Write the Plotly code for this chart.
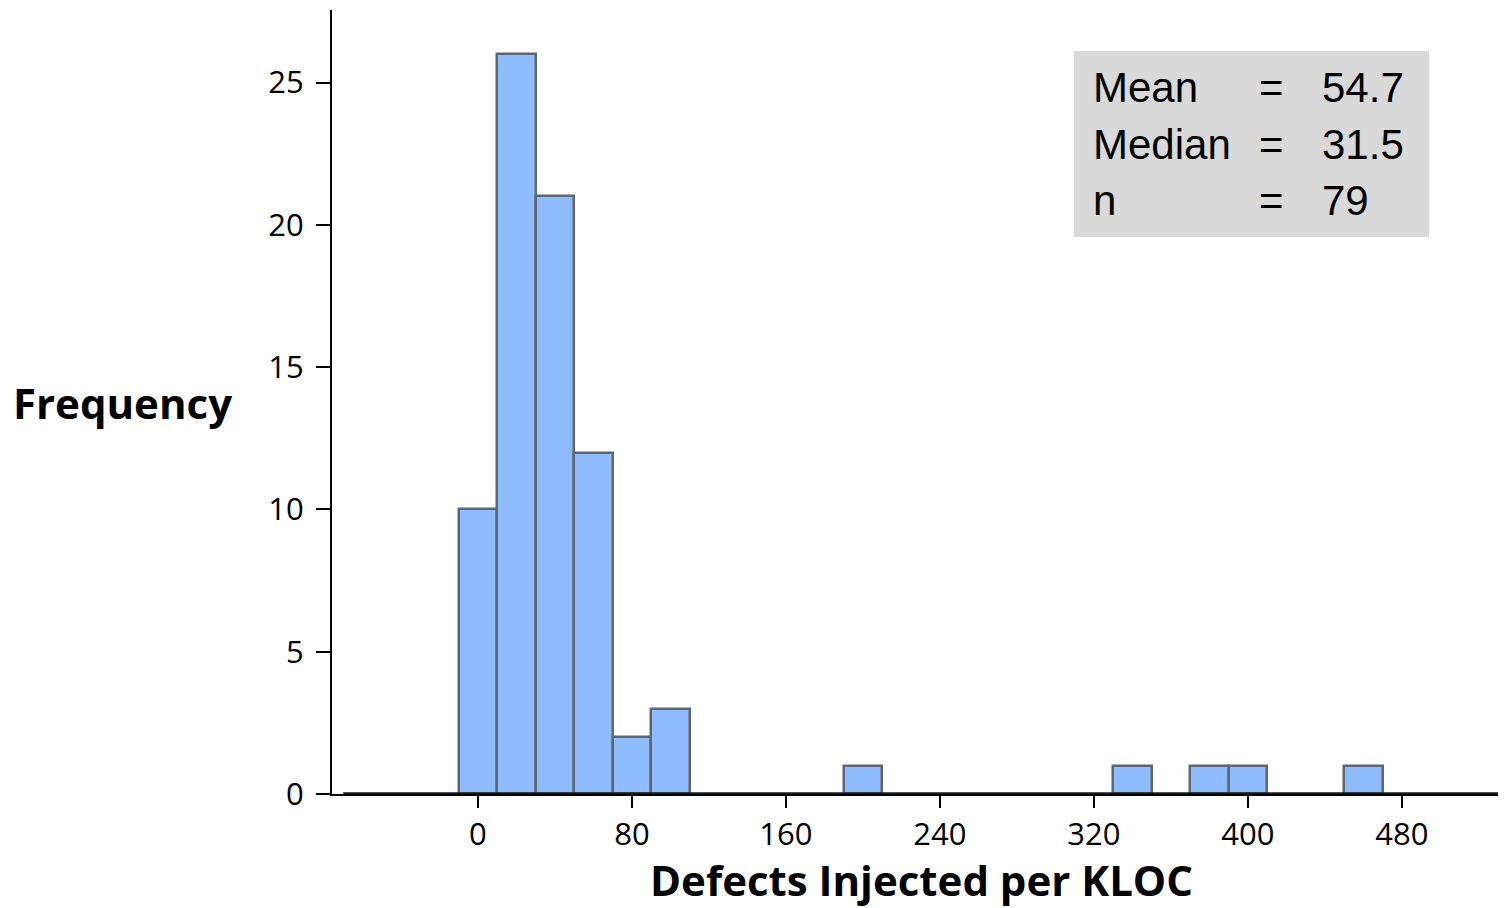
import plotly.graph_objects as go

# Histogram bins (centers, width 20) and counts
bin_centers = list(range(-60, 521, 20))
counts = [0, 0, 0, 10, 26, 21, 12, 2, 3, 0, 0, 0, 0, 1, 0, 0, 0, 0, 0, 0, 1, 0, 1, 1, 0, 0, 1, 0, 0, 0]
bin_width = 20

stat_labels = ["Mean", "Median", "n"]
stat_values = ["54.7", "31.5", "79"]

x_ticks = [0, 80, 160, 240, 320, 400, 480]
y_ticks = [0, 5, 10, 15, 20, 25]

bx = [c for c, n in zip(bin_centers, counts) if n > 0]
by = [n for n in counts if n > 0]

fig = go.Figure()

# baseline of empty bins
edge_lo = bin_centers[0] - bin_width / 2
edge_hi = bin_centers[-1] + bin_width / 2
fig.add_trace(go.Scatter(
    x=[edge_lo, edge_hi], y=[0, 0], mode="lines",
    line=dict(color="#1a1a1a", width=3.5), hoverinfo="skip", showlegend=False,
    cliponaxis=False,
))

fig.add_trace(go.Bar(
    x=bx, y=by, width=bin_width,
    marker=dict(color="#8FBCFF", line=dict(color="#5E6670", width=2.5)),
    showlegend=False,
))

fig.update_layout(
    width=1498, height=900,
    margin=dict(l=324, r=3, t=2, b=114),
    paper_bgcolor="white", plot_bgcolor="white",
    bargap=0,
    font=dict(family="Open Sans", color="black"),
    xaxis=dict(
        range=[-75.8, 532.5], tickvals=x_ticks, ticktext=[str(v) for v in x_ticks],
        showline=True, linecolor="black", linewidth=2,
        ticks="outside", ticklen=12, tickwidth=2, tickcolor="black",
        showgrid=False, zeroline=False, tickfont=dict(size=31, family="Open Sans"),
    ),
    yaxis=dict(
        range=[0, 27.55], tickvals=y_ticks, ticktext=[str(v) for v in y_ticks],
        showline=True, linecolor="black", linewidth=2,
        ticks="outside", ticklen=14, tickwidth=2, tickcolor="black",
        ticklabelstandoff=6,
        showgrid=False, zeroline=False, tickfont=dict(size=31, family="Open Sans"),
    ),
)

# stats box
fig.add_shape(type="rect", xref="paper", yref="paper",
              x0=0.6336, x1=0.9368, y0=0.7105, y1=0.9477,
              fillcolor="#D9D9D9", line=dict(width=0), layer="below")

row_y = [0.9015, 0.8288, 0.7574]
for lab, val, yy in zip(stat_labels, stat_values, row_y):
    fig.add_annotation(x=0.6481, y=yy, xref="paper", yref="paper", text=lab,
                       showarrow=False, xanchor="left", yanchor="middle",
                       font=dict(family="Liberation Sans", size=42, color="black"))
    fig.add_annotation(x=0.8027, y=yy, xref="paper", yref="paper", text="=",
                       showarrow=False, xanchor="center", yanchor="middle",
                       font=dict(family="Liberation Sans", size=42, color="black"))
    fig.add_annotation(x=0.8437, y=yy, xref="paper", yref="paper", text=val,
                       showarrow=False, xanchor="left", yanchor="middle",
                       font=dict(family="Liberation Sans", size=42, color="black"))

# axis titles
fig.add_annotation(x=-0.1785, y=0.5, xref="paper", yref="paper", text="<b>Frequency</b>",
                   showarrow=False, xanchor="center", yanchor="middle",
                   font=dict(family="Open Sans", size=42, color="black"))
fig.add_annotation(x=0.5035, y=-0.1085, xref="paper", yref="paper",
                   text="<b>Defects Injected per KLOC</b>",
                   showarrow=False, xanchor="center", yanchor="middle",
                   font=dict(family="Open Sans", size=42, color="black"))

fig.write_html("out.html")
